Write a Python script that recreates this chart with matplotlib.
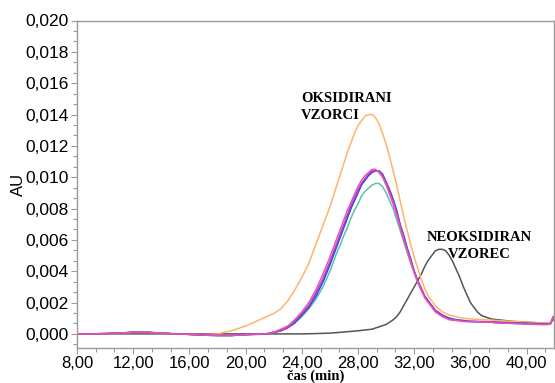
import numpy as np
import matplotlib
matplotlib.use("Agg")
import matplotlib.pyplot as plt
from matplotlib.ticker import MultipleLocator, FuncFormatter


# sampling times (min): coarse on the baseline, finer across the peaks
t_colour = np.concatenate([np.arange(8, 20.5, 1.0), np.arange(20.5, 26, 0.5),
                           np.arange(26, 33.1, 0.25), np.arange(33.5, 38.1, 0.5),
                           [39, 40, 41, 41.5, 41.7, 41.9, 42.1]])
t_black = np.concatenate([np.arange(8, 20.5, 1.0), np.arange(21, 30.5, 1.0),
                          np.arange(30.5, 37.1, 0.25),
                          [37.5, 38, 39, 40, 41, 41.5, 41.7, 41.9, 42.1]])

# baseline shared by the oxidised samples (8-20 min)
base = [0.0, 0.0, 0.00002, 0.00005, 0.0001, 0.0001, 0.00005, 0.0,
        -0.00003, -0.00008, -0.0001, -0.0001, -0.00005]

# oxidised samples (AU)
au_orange = [0.0, 0.0, 0.00002, 0.00005, 0.0001, 0.0001, 0.00005, 0.0,
             -0.00003, -0.00005, 0.0, 0.0002, 0.0005,
             0.0007, 0.0009, 0.0011, 0.0013, 0.0016, 0.0021, 0.0028, 0.0036,
             0.0045, 0.0057, 0.0069,
             0.0081, 0.0088, 0.0095, 0.0102, 0.0109, 0.0116, 0.0122, 0.0128,
             0.0133, 0.0136, 0.0139, 0.0140, 0.0140, 0.0138, 0.0134, 0.0128,
             0.0121, 0.0113, 0.0104, 0.0095, 0.0085, 0.0075, 0.0066, 0.0057,
             0.0049, 0.0042, 0.0035, 0.0029, 0.0024,
             0.0018, 0.0014, 0.0012, 0.0011, 0.0010, 0.00095, 0.00093, 0.0009,
             0.00088, 0.00085,
             0.0008, 0.00075, 0.0007, 0.0007, 0.0007, 0.0011, 0.0008]

au_pink = base + [
    -0.00003, -0.00002, 0.00002, 0.0001, 0.0003, 0.0005, 0.0009, 0.0014,
    0.0020, 0.0028, 0.0038,
    0.0049, 0.0055, 0.0061, 0.0067, 0.0073, 0.0079, 0.0084, 0.0089,
    0.0094, 0.0098, 0.0101, 0.0103, 0.0105, 0.0105, 0.0103, 0.0100,
    0.0095, 0.0089, 0.0083, 0.0076, 0.0068, 0.0060, 0.0053, 0.0046,
    0.0039, 0.0033, 0.0028, 0.0023, 0.0020,
    0.0014, 0.0011, 0.0009, 0.00085, 0.0008, 0.00078, 0.00077, 0.00076,
    0.00074, 0.0007,
    0.00067, 0.00063, 0.0006, 0.0006, 0.00063, 0.0011, 0.0008]

au_violet = base + [
    -0.00003, -0.00002, 0.0, 0.0001, 0.0002, 0.0004, 0.0008, 0.0013,
    0.0018, 0.0026, 0.0035,
    0.0046, 0.0052, 0.0058, 0.0064, 0.0070, 0.0076, 0.0082, 0.0087,
    0.0092, 0.0096, 0.0099, 0.0102, 0.0104, 0.0104, 0.0104, 0.0101,
    0.0096, 0.0091, 0.0085, 0.0078, 0.0069, 0.0062, 0.0054, 0.0047,
    0.0040, 0.0034, 0.0029, 0.0024, 0.0021,
    0.0015, 0.0012, 0.00095, 0.00088, 0.0008, 0.00079, 0.00078, 0.00077,
    0.00075, 0.0007,
    0.00068, 0.00065, 0.00062, 0.00062, 0.00065, 0.0011, 0.0008]

au_blue = base + [
    -0.00003, -0.00003, 0.0, 0.0001, 0.0002, 0.0004, 0.0007, 0.0012,
    0.0017, 0.0024, 0.0033,
    0.0044, 0.0050, 0.0056, 0.0062, 0.0068, 0.0074, 0.0080, 0.0085,
    0.0090, 0.0095, 0.0098, 0.0101, 0.0103, 0.0104, 0.0104, 0.0102,
    0.0097, 0.0092, 0.0086, 0.0079, 0.0070, 0.0063, 0.0055, 0.0048,
    0.0040, 0.0034, 0.0029, 0.0024, 0.0021,
    0.0015, 0.0012, 0.0010, 0.0009, 0.00085, 0.0008, 0.00079, 0.00078,
    0.00077, 0.00075,
    0.0007, 0.00068, 0.00065, 0.00062, 0.00065, 0.0011, 0.0008]

au_teal = base + [
    -0.00003, -0.00002, 0.0, 0.0001, 0.0002, 0.0004, 0.0007, 0.0011,
    0.0016, 0.0022, 0.0030,
    0.0040, 0.0046, 0.0052, 0.0057, 0.0063, 0.0068, 0.0074, 0.0079,
    0.0083, 0.0088, 0.0091, 0.0093, 0.0095, 0.0096, 0.0096, 0.0094,
    0.0090, 0.0085, 0.0080, 0.0073, 0.0066, 0.0059, 0.0052, 0.0045,
    0.0039, 0.0033, 0.0028, 0.0024, 0.0021,
    0.0015, 0.0012, 0.0010, 0.0009, 0.00085, 0.0008, 0.00078, 0.00076,
    0.00074, 0.0007,
    0.00067, 0.00063, 0.0006, 0.0006, 0.00063, 0.0011, 0.0008]

# non-oxidised sample (AU)
au_black = [0.0] * 13 + [
    0.0, 0.0, 0.0, 0.0, 0.00002, 0.00005, 0.00012, 0.0002, 0.0003, 0.0006,
    0.0009, 0.0011, 0.0014, 0.0018, 0.0022, 0.0026, 0.0030, 0.0034,
    0.0038, 0.0043, 0.0047, 0.0050, 0.0053, 0.0054, 0.0054, 0.0053,
    0.0050, 0.0046, 0.0041, 0.0036, 0.0030, 0.0025, 0.0020, 0.0017,
    0.0014, 0.0012, 0.0011,
    0.00095, 0.0009, 0.0008, 0.00075, 0.0007, 0.0007, 0.0007, 0.0009, 0.0008]

series = [
    (t_black, au_black, "#555555"),
    (t_colour, au_orange, "#FFB36B"),
    (t_colour, au_teal, "#5FBFAF"),
    (t_colour, au_blue, "#3344E0"),
    (t_colour, au_violet, "#A040D0"),
    (t_colour, au_pink, "#F050B0"),
]

x_ticks = [8, 12, 16, 20, 24, 28, 32, 36, 40]
y_ticks = [0.000, 0.002, 0.004, 0.006, 0.008, 0.010, 0.012, 0.014, 0.016,
           0.018, 0.020]

sans = "Liberation Sans"
serif = "Liberation Serif"
axis_grey = "#9a9a9a"

fig = plt.figure(figsize=(5.55, 3.83), dpi=100)
ax = fig.add_axes([77 / 555, 1 - 348 / 383, 477 / 555, (348 - 20.5) / 383])

for t, values, color in series:
    ax.plot(t, values, color=color, lw=1.1)

ax.set_xlim(8, 41.95)
ax.set_ylim(-0.0009, 0.020)

ax.set_xticks(x_ticks)
ax.set_yticks(y_ticks)
ax.xaxis.set_minor_locator(MultipleLocator(4 / 3))
ax.yaxis.set_minor_locator(MultipleLocator(0.002 / 3))
ax.xaxis.set_major_formatter(FuncFormatter(lambda v, p: f"{v:.2f}".replace(".", ",")))
ax.yaxis.set_major_formatter(FuncFormatter(lambda v, p: f"{v:.3f}".replace(".", ",")))

ax.tick_params(which="major", direction="out", length=4, width=0.8,
               color=axis_grey, labelsize=12.5, pad=2)
ax.tick_params(axis="x", which="major", labelsize=12, pad=1.5)
ax.tick_params(which="minor", direction="out", length=3, width=0.8,
               color=axis_grey)
for lab in ax.get_xticklabels() + ax.get_yticklabels():
    lab.set_fontfamily(sans)

for side in ax.spines.values():
    side.set_color(axis_grey)
    side.set_linewidth(1.0)

ax.set_ylabel("AU", fontfamily=sans, fontsize=12)
ax.yaxis.set_label_coords(-0.107, 0.5)
ax.set_xlabel("čas (min)", fontfamily=serif, fontweight="bold", fontsize=10.5)
ax.xaxis.set_label_coords(0.5, -0.0655)

ax.text(23.95, 0.01448, "OKSIDIRANI\nVZORCI", fontfamily=serif,
        fontweight="bold", fontsize=10.5, ha="left", va="center",
        linespacing=1.4)
ax.text(36.6, 0.00558, "NEOKSIDIRAN\nVZOREC", fontfamily=serif,
        fontweight="bold", fontsize=10.5, ha="center", va="center",
        linespacing=1.4)

fig.savefig("out.png", dpi=100)
